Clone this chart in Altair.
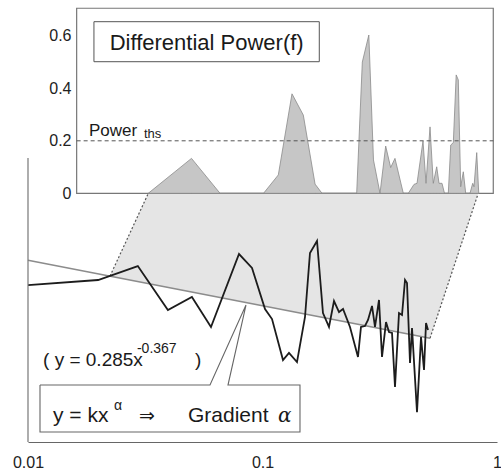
import altair as alt
import pandas as pd

# ---------------- data ----------------
# lower panel: spectrum (frequency vs power, log-log)
SPEC_F = [0.01, 0.0199, 0.0294, 0.0395, 0.0500, 0.0603, 0.0794, 0.0902, 0.1025, 0.1098,
          0.1223, 0.1297, 0.1403, 0.1518, 0.1594, 0.1708, 0.1811, 0.1921, 0.2018, 0.2120,
          0.2205, 0.2361, 0.2554, 0.2630, 0.2736, 0.2818, 0.2931, 0.3018, 0.3139, 0.3233,
          0.3363, 0.3463, 0.3567, 0.3673, 0.3820, 0.3935, 0.4053, 0.4133, 0.4256, 0.4341,
          0.4559, 0.4742, 0.4884, 0.4981, 0.5080]
SPEC_P = [0.974, 1.069, 1.386, 0.612, 0.780, 0.447, 1.732, 1.336, 0.624, 0.518,
          0.242, 0.276, 0.233, 0.538, 1.765, 2.206, 0.579, 0.447, 0.724, 0.590,
          0.624, 0.447, 0.256, 0.447, 0.455, 0.509, 0.660, 0.447, 0.738, 0.256,
          0.490, 0.407, 0.400, 0.147, 0.579, 0.558, 1.069, 1.011, 0.229, 0.439,
          0.092, 0.371, 0.201, 0.481, 0.423]

# power-law fit y = k x^alpha
K = 0.285
ALPHA = -0.367
FIT_F = [0.01, 0.518]

# projection band (lower panel coordinates)
BAND_F = [0.02237, 0.03249, 0.5180, 0.8298]
BAND_LO = [1.149, 1.002, 0.3628, 5.279]
BAND_HI = [1.149, 5.279, 5.279, 5.279]
EDGE_F = [0.02237, 0.03249, 0.5180, 0.8298]
EDGE_P = [1.149, 5.279, 0.3628, 5.279]
EDGE_ID = ["left", "left", "right", "right"]

# callout balloon (lower panel coordinates)
BAL_F = [0.01125, 0.05972, 0.08503, 0.07126, 0.1445, 0.1445, 0.01125, 0.01125]
BAL_P = [0.1521, 0.1521, 0.672, 0.1521, 0.1521, 0.06356, 0.06356, 0.1521]

# upper panel: differential power
DP_F = [0.02243, 0.03385, 0.04442, 0.06722, 0.07738, 0.08814, 0.09817, 0.1098, 0.1173,
        0.1632, 0.1722, 0.1832, 0.1915, 0.2038, 0.2151, 0.2256, 0.2350, 0.2544, 0.2668,
        0.2817, 0.2899, 0.3069, 0.3158, 0.3281, 0.3385, 0.3497, 0.3575, 0.3678, 0.3766,
        0.3905, 0.3996, 0.4096, 0.4210, 0.4295, 0.4394, 0.4505, 0.4609, 0.4801, 0.4927,
        0.4988, 0.5119, 0.5218]
DP_V = [0, 0.133, 0, 0, 0.070, 0.379, 0.298, 0.035, 0,
        0, 0.500, 0.603, 0.127, 0, 0.180, 0.098, 0.133, 0, 0,
        0.034, 0.038, 0.199, 0.038, 0.253, 0.038, 0.101, 0.038, 0.038, 0,
        0, 0.184, 0.193, 0.451, 0.432, 0.025, 0.082, 0, 0, 0.038,
        0.025, 0.155, 0]
POWER_THS = 0.2
TOP_TICKS = [0, 0.2, 0.4, 0.6]
BOTTOM_TICKS = [0.01, 0.1, 1]

# upper panel frame and title box (upper panel coordinates)
FRAME_F = [0.01134, 0.5993]
FRAME_V = [0, 0.705]
TBOX_F = [0.01337, 0.1143]
TBOX_V = [0.5013, 0.6537]

FONT = "Liberation Sans"
INK = "#1a1a1a"

# ---------------- scales ----------------
def xb(field="f"):
    return alt.X(f"{field}:Q",
                 scale=alt.Scale(type="log", domain=[0.01, 1], nice=False),
                 axis=alt.Axis(values=BOTTOM_TICKS, format="~g", ticks=False, grid=False,
                               domainColor="#666", domainWidth=1.2, labelFontSize=16,
                               labelPadding=12, labelColor="#222", labelFont=FONT,
                               labelFlush=False, title=None))

def yb(field="p"):
    return alt.Y(f"{field}:Q", scale=alt.Scale(type="log", domain=[0.0528, 167], nice=False),
                 axis=None)

def xt(field="f"):
    return alt.X(f"{field}:Q",
                 scale=alt.Scale(type="log", domain=[0.007135, 0.6209], nice=False),
                 axis=None)

def yt(field="v"):
    return alt.Y(f"{field}:Q", scale=alt.Scale(domain=[-0.9474, 0.7059], nice=False, zero=False),
                 axis=alt.Axis(values=TOP_TICKS, format="~g", orient="left", offset=-49,
                               ticks=False, domain=False, grid=False, labelFontSize=16,
                               labelPadding=6, labelColor="#222", labelFont=FONT, title=None))

# ---------------- lower panel ----------------
band = alt.Chart(pd.DataFrame({"f": BAND_F, "lo": BAND_LO, "hi": BAND_HI})).mark_area(
    color="#e5e5e5", opacity=1).encode(x=xb(), y=yb("lo"), y2="hi:Q")

edges = alt.Chart(pd.DataFrame({"f": EDGE_F, "p": EDGE_P, "e": EDGE_ID})).mark_line(
    color="#555", strokeDash=[2, 2], strokeWidth=1.2).encode(x=xb(), y=yb(), detail="e:N")

fit = alt.Chart(pd.DataFrame({"f": FIT_F})).transform_calculate(
    p=f"{K} * pow(datum.f, {ALPHA})").mark_line(color="#8c8c8c", strokeWidth=1.6).encode(
    x=xb(), y=yb())

spec = alt.Chart(pd.DataFrame({"f": SPEC_F, "p": SPEC_P, "i": list(range(len(SPEC_F)))})).mark_line(
    color="#1c1c1c", strokeWidth=1.8).encode(x=xb(), y=yb(), order="i:Q")

bal = alt.Chart(pd.DataFrame({"f": BAL_F, "p": BAL_P, "i": list(range(len(BAL_F)))})).mark_line(
    color="#666", strokeWidth=1.1).encode(x=xb(), y=yb(), order="i:Q")

axis_line = alt.Chart(pd.DataFrame({"f": [0.01], "p": [0.0528], "p2": [10.3]})).mark_rule(
    color="#777", strokeWidth=1.2).encode(x=xb(), y=yb(), y2="p2:Q")

bot_text = pd.DataFrame({
    "f": [0.01159, 0.02915, 0.05154, 0.01278, 0.02326, 0.04811],
    "p": [0.2185, 0.2756, 0.2185, 0.07697, 0.09572, 0.07697],
    "t": ["( y = 0.285x", "-0.367", ")", "y = kx", "α", "Gradient"],
    "s": [19, 14, 19, 21, 14, 21],
})
btxt = alt.Chart(bot_text).mark_text(align="left", baseline="alphabetic", font=FONT,
                                     color=INK).encode(
    x=xb(), y=yb(), text="t:N", size=alt.Size("s:Q", scale=None))

arrow = alt.Chart(pd.DataFrame({"f": [0.02973], "p": [0.07697], "t": ["⇒"]})).mark_text(
    align="left", baseline="alphabetic", font="DejaVu Sans", fontSize=19, color=INK).encode(
    x=xb(), y=yb(), text="t:N")

alpha_it = alt.Chart(pd.DataFrame({"f": [0.1164], "p": [0.07697], "t": ["α"]})).mark_text(
    align="left", baseline="alphabetic", font="DejaVu Serif", fontStyle="italic", fontSize=20,
    color=INK).encode(x=xb(), y=yb(), text="t:N")

bottom = alt.layer(band, edges, fit, spec, bal, axis_line, btxt, arrow, alpha_it)

# ---------------- upper panel ----------------
frame = alt.Chart(pd.DataFrame({"f": [FRAME_F[0]], "f2": [FRAME_F[1]],
                                "v": [FRAME_V[0]], "v2": [FRAME_V[1]]})).mark_rect(
    fill="white", stroke="#777", strokeWidth=1.2).encode(x=xt(), x2="f2:Q", y=yt(), y2="v2:Q")

dp = alt.Chart(pd.DataFrame({"f": DP_F, "v": DP_V})).mark_area(
    fill="#c6c6c6", stroke="#8a8a8a", strokeWidth=0.8, opacity=1).encode(x=xt(), y=yt())

ths = alt.Chart(pd.DataFrame({"f": [FRAME_F[0]], "f2": [FRAME_F[1]], "v": [POWER_THS]})).mark_rule(
    color="#555", strokeDash=[4, 3], strokeWidth=1).encode(x=xt(), x2="f2:Q", y=yt())

tbox = alt.Chart(pd.DataFrame({"f": [TBOX_F[0]], "f2": [TBOX_F[1]],
                               "v": [TBOX_V[0]], "v2": [TBOX_V[1]]})).mark_rect(
    fill="white", stroke="#555", strokeWidth=1).encode(x=xt(), x2="f2:Q", y=yt(), y2="v2:Q")

ttitle = alt.Chart(pd.DataFrame({"f": [0.03911], "v": [0.5459], "t": ["Differential Power(f)"]})).mark_text(
    align="center", baseline="alphabetic", font=FONT, fontSize=22, color=INK).encode(
    x=xt(), y=yt(), text="t:N")

top_text = pd.DataFrame({"f": [0.01275, 0.02152], "v": [0.2183, 0.2088],
                         "t": ["Power", "ths"], "s": [17, 13]})
ptxt = alt.Chart(top_text).mark_text(align="left", baseline="alphabetic", font=FONT,
                                     color=INK).encode(
    x=xt(), y=yt(), text="t:N", size=alt.Size("s:Q", scale=None))

top = alt.layer(frame, dp, ths, tbox, ttitle, ptxt)

chart = alt.layer(bottom, top).resolve_scale(x="independent", y="independent").properties(
    width=469, height=434,
    padding={"left": 28, "top": 8, "right": 4, "bottom": 27},
    autosize=alt.AutoSizeParams(type="none"),
    background="white",
).configure_view(stroke=None)

chart.save("out.html", embed_options={"renderer": "svg", "actions": False})
